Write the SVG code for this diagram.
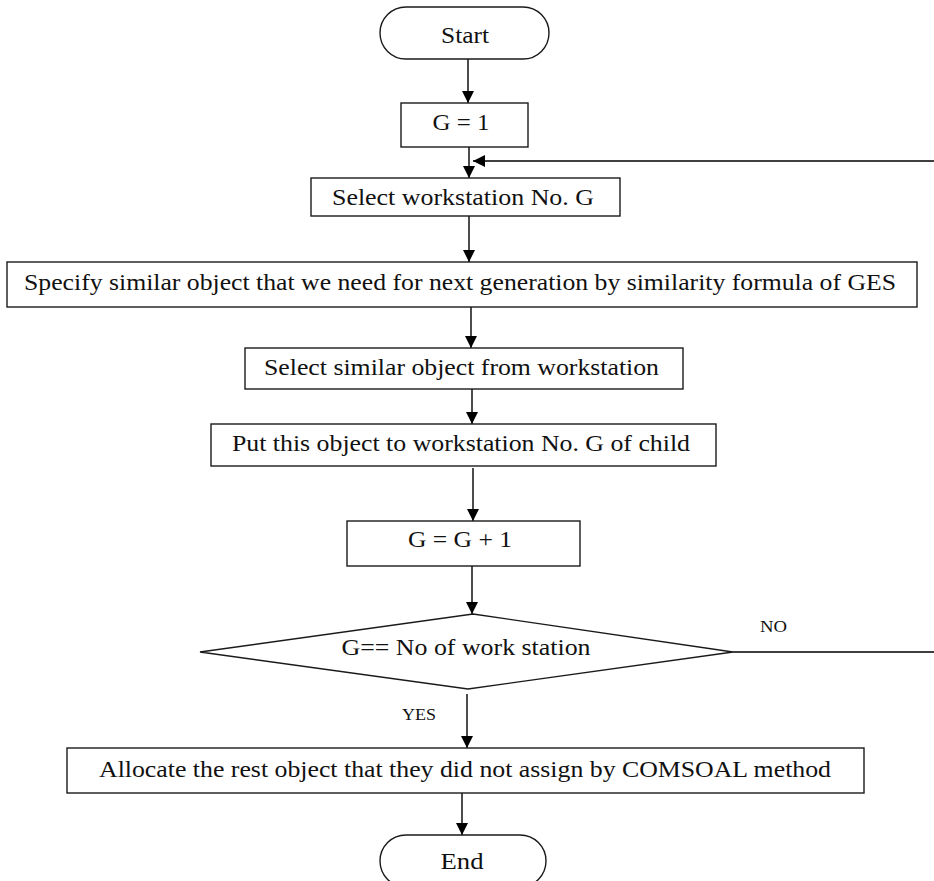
<svg xmlns="http://www.w3.org/2000/svg" width="934" height="881" viewBox="0 0 934 881">
<defs>
<marker id="arr" markerWidth="13" markerHeight="13" refX="12" refY="6.5" orient="auto" markerUnits="userSpaceOnUse">
<path d="M0,0.5 L12,6.5 L0,12.5 Z" fill="#000"/>
</marker>
<style>
.shape{fill:#fff;stroke:#1a1a1a;stroke-width:1.4}
.t{font-family:"Liberation Serif","Times New Roman",serif;font-size:24px;fill:#111;text-anchor:middle}
.s{font-family:"Liberation Serif","Times New Roman",serif;font-size:16px;fill:#111;text-anchor:middle}
.c{fill:none;stroke:#000;stroke-width:1.4}
</style>
</defs>
<rect width="934" height="881" fill="#fff"/>
<g id="connectors">
<line class="c" x1="468" y1="59" x2="468" y2="103" marker-end="url(#arr)"/>
<line class="c" x1="469" y1="147" x2="469" y2="178" marker-end="url(#arr)"/>
<path class="c" d="M733,652 H945 V161 H473" marker-end="url(#arr)"/>
<line class="c" x1="469" y1="216" x2="469" y2="262" marker-end="url(#arr)"/>
<line class="c" x1="471" y1="307" x2="471" y2="348" marker-end="url(#arr)"/>
<line class="c" x1="472" y1="389" x2="472" y2="424" marker-end="url(#arr)"/>
<line class="c" x1="473" y1="468" x2="473" y2="521" marker-end="url(#arr)"/>
<line class="c" x1="472" y1="566" x2="472" y2="614" marker-end="url(#arr)"/>
<line class="c" x1="467" y1="694" x2="467" y2="748" marker-end="url(#arr)"/>
<line class="c" x1="462" y1="793" x2="462" y2="835" marker-end="url(#arr)"/>
</g>
<g id="start">
<rect class="shape" x="380" y="7" width="169" height="52" rx="26" ry="26"/>
<text class="t" x="465" y="43" textLength="48" lengthAdjust="spacingAndGlyphs">Start</text>
</g>
<g id="g-init">
<rect class="shape" x="401" y="103" width="127" height="44"/>
<text class="t" x="461" y="130" textLength="57" lengthAdjust="spacingAndGlyphs">G = 1</text>
</g>
<g id="select-ws">
<rect class="shape" x="311" y="178" width="309" height="38"/>
<text class="t" x="463" y="205" textLength="262" lengthAdjust="spacingAndGlyphs">Select workstation No. G</text>
</g>
<g id="specify">
<rect class="shape" x="7" y="262" width="910" height="45"/>
<text class="t" x="460" y="290" textLength="872" lengthAdjust="spacingAndGlyphs">Specify similar object that we need for next generation by similarity formula of GES</text>
</g>
<g id="select-similar">
<rect class="shape" x="245" y="348" width="438" height="41"/>
<text class="t" x="461.5" y="375" textLength="395" lengthAdjust="spacingAndGlyphs">Select similar object from workstation</text>
</g>
<g id="put-object">
<rect class="shape" x="211" y="424" width="505" height="42"/>
<text class="t" x="461" y="451" textLength="458" lengthAdjust="spacingAndGlyphs">Put this object to workstation No. G of child</text>
</g>
<g id="g-inc">
<rect class="shape" x="347" y="521" width="233" height="45"/>
<text class="t" x="460" y="547" textLength="104" lengthAdjust="spacingAndGlyphs">G = G + 1</text>
</g>
<g id="decision">
<polygon class="shape" points="473,614 733,652 468,689 200,652"/>
<text class="t" x="466" y="655" textLength="249" lengthAdjust="spacingAndGlyphs">G== No of work station</text>
<text class="s" x="773.5" y="632" textLength="27" lengthAdjust="spacingAndGlyphs">NO</text>
<text class="s" x="419" y="720" textLength="34" lengthAdjust="spacingAndGlyphs">YES</text>
</g>
<g id="allocate">
<rect class="shape" x="67" y="748" width="797" height="45"/>
<text class="t" x="465" y="777" textLength="732" lengthAdjust="spacingAndGlyphs">Allocate the rest object that they did not assign by COMSOAL method</text>
</g>
<g id="end">
<rect class="shape" x="380" y="835" width="166" height="52" rx="26" ry="26"/>
<text class="t" x="462" y="869" textLength="43" lengthAdjust="spacingAndGlyphs">End</text>
</g>
</svg>
